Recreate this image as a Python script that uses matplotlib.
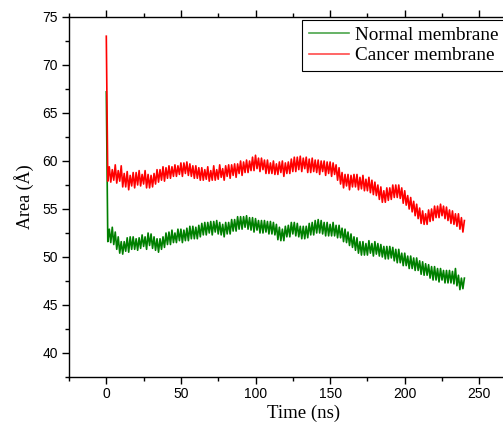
import matplotlib
matplotlib.use("Agg")
import matplotlib.pyplot as plt
import numpy as np
from matplotlib.ticker import MultipleLocator

# ---------------------------------------------------------------------------
# Data (area per lipid, one value per ns)
# ---------------------------------------------------------------------------
normal_area = [
    67.2, 51.6, 52.9, 51.5, 53.1, 51.3, 52.6, 50.8, 52.1, 50.4,
    51.6, 50.3, 51.6, 50.6, 52.0, 50.5, 52.1, 50.8, 52.1, 50.8,
    51.9, 50.7, 52.0, 50.9, 52.3, 51.1, 52.1, 50.8, 52.5, 51.2,
    52.4, 50.9, 52.1, 50.7, 51.9, 50.5, 51.9, 50.8, 52.1, 51.0,
    52.5, 51.3, 52.6, 51.3, 52.8, 51.5, 52.5, 51.5, 52.9, 51.7,
    52.9, 51.5, 52.8, 51.7, 53.0, 51.7, 53.2, 51.9, 53.2, 51.9,
    53.1, 51.9, 53.3, 52.1, 53.5, 52.3, 53.6, 52.3, 53.6, 52.5,
    53.7, 52.3, 53.7, 52.6, 53.8, 52.4, 53.6, 52.3, 53.4, 52.1,
    53.6, 52.4, 53.6, 52.4, 53.9, 52.7, 53.9, 52.7, 54.2, 52.9,
    54.2, 52.9, 54.2, 53.1, 54.3, 52.9, 54.1, 52.8, 54.1, 52.6,
    54.0, 52.8, 53.8, 52.5, 53.8, 52.5, 53.8, 52.6, 53.7, 52.4,
    53.7, 52.4, 53.6, 52.3, 53.4, 51.8, 53.1, 51.7, 52.9, 51.7,
    53.2, 52.1, 53.3, 52.1, 53.6, 52.4, 53.6, 52.2, 53.5, 52.1,
    53.2, 51.9, 53.2, 51.9, 53.2, 52.0, 53.5, 52.3, 53.6, 52.3,
    53.8, 52.5, 53.9, 52.5, 53.8, 52.4, 53.6, 52.2, 53.6, 52.2,
    53.4, 52.2, 53.6, 52.2, 53.3, 52.0, 53.3, 52.0, 53.0, 51.6,
    52.9, 51.5, 52.6, 51.2, 52.4, 51.0, 52.1, 50.7, 52.0, 50.4,
    51.6, 50.2, 51.6, 50.2, 51.4, 50.2, 51.7, 50.4, 51.4, 50.1,
    51.6, 50.3, 51.4, 50.1, 51.3, 50.0, 51.1, 49.8, 51.1, 49.8,
    51.1, 49.9, 51.0, 49.6, 50.8, 49.4, 50.8, 49.4, 50.4, 49.1,
    50.4, 49.1, 50.1, 48.8, 50.1, 48.8, 49.9, 48.6, 49.9, 48.6,
    49.6, 48.2, 49.5, 48.1, 49.3, 48.1, 49.2, 47.8, 49.0, 47.6,
    49.0, 47.6, 48.8, 47.4, 48.8, 47.6, 48.6, 47.3, 48.6, 47.3,
    48.6, 47.3, 48.5, 47.2, 48.8, 47.0, 48.1, 46.6, 47.8, 46.7,
    47.8,
]

cancer_area = [
    73.0, 57.9, 59.4, 57.8, 59.1, 58.0, 59.6, 57.7, 59.0, 57.9,
    59.5, 57.3, 58.7, 57.3, 58.9, 57.0, 58.5, 57.4, 58.8, 57.2,
    58.8, 57.5, 59.0, 57.4, 58.6, 57.6, 59.0, 57.2, 58.6, 57.2,
    58.5, 57.3, 58.7, 57.6, 59.1, 57.8, 59.1, 58.0, 59.4, 57.9,
    59.3, 58.2, 59.5, 58.2, 59.4, 58.4, 59.6, 58.4, 59.5, 58.6,
    59.8, 58.4, 59.8, 58.7, 59.9, 58.5, 59.7, 58.4, 59.5, 58.2,
    59.5, 58.2, 59.3, 58.0, 59.3, 58.0, 59.1, 58.1, 59.4, 57.9,
    59.0, 58.0, 59.5, 58.0, 59.1, 58.1, 59.6, 58.3, 59.2, 58.0,
    59.5, 58.4, 59.6, 58.2, 59.6, 58.5, 59.7, 58.3, 59.7, 58.7,
    60.0, 58.5, 59.9, 58.8, 60.1, 58.8, 60.0, 59.0, 60.4, 59.0,
    60.6, 59.2, 60.3, 58.9, 60.3, 59.1, 60.1, 58.7, 60.1, 58.7,
    59.8, 58.7, 60.0, 58.6, 59.7, 58.6, 59.9, 58.8, 60.0, 58.4,
    59.8, 58.7, 59.9, 58.7, 60.2, 58.9, 60.4, 58.9, 60.4, 59.1,
    60.5, 58.9, 60.3, 59.2, 60.4, 58.8, 60.2, 58.8, 60.3, 58.9,
    60.1, 58.8, 60.1, 58.6, 60.0, 58.9, 60.0, 58.5, 59.9, 58.7,
    59.9, 58.4, 59.8, 58.6, 59.6, 58.0, 59.3, 57.6, 58.8, 57.2,
    58.6, 57.4, 58.6, 57.0, 58.5, 57.3, 58.6, 57.3, 58.6, 57.0,
    58.3, 57.1, 58.5, 56.9, 58.1, 56.9, 58.3, 56.7, 58.0, 56.5,
    57.8, 56.4, 57.5, 56.0, 57.3, 55.7, 56.9, 55.7, 57.2, 55.9,
    57.2, 56.0, 57.5, 56.2, 57.5, 56.2, 57.5, 56.1, 57.2, 55.6,
    56.9, 55.4, 56.4, 55.0, 56.2, 54.7, 55.8, 54.3, 55.5, 54.0,
    55.1, 53.5, 54.8, 53.4, 54.5, 53.4, 54.9, 53.7, 55.0, 53.8,
    55.3, 54.1, 55.3, 54.1, 55.5, 54.3, 55.3, 54.0, 55.2, 53.8,
    54.9, 53.5, 54.8, 53.4, 54.5, 53.2, 54.5, 52.9, 54.1, 52.6,
    53.8,
]

time_ns = np.arange(len(normal_area))  # 1 ns sampling

serif = ["Liberation Serif", "DejaVu Serif"]
sans = ["Liberation Sans", "DejaVu Sans"]

fig = plt.figure(figsize=(5.03, 4.34), dpi=100)
# axes runs past the right edge of the figure, as in the cropped reference
ax = fig.add_axes([69 / 503, 57 / 434, 470 / 503, 360 / 434])

ax.plot(time_ns, normal_area, color="#008000", lw=1.2, label="Normal membrane")
ax.plot(time_ns, cancer_area, color="#ff0000", lw=1.2, label="Cancer membrane")

ax.set_xlim(-25, 290)
ax.set_ylim(37.5, 75)
ax.xaxis.set_major_locator(MultipleLocator(50))
ax.xaxis.set_minor_locator(MultipleLocator(25))
ax.yaxis.set_major_locator(MultipleLocator(5))
ax.yaxis.set_minor_locator(MultipleLocator(2.5))

ax.tick_params(which="major", direction="out", length=5, width=1, pad=2,
               labelsize=10)
ax.tick_params(which="minor", direction="out", length=3, width=1)
ax.tick_params(axis="y", which="major", pad=3)
ax.tick_params(axis="x", which="both", top=True)
for lab in ax.get_xticklabels() + ax.get_yticklabels():
    lab.set_family(sans)
for sp in ax.spines.values():
    sp.set_linewidth(1.0)

ax.set_xlabel("Time (ns)", family=serif, fontsize=13.5, labelpad=3)
ax.set_ylabel("Area (Å)", family=serif, fontsize=13, labelpad=6)

leg = ax.legend(loc="upper left", bbox_to_anchor=(302 / 503, 1 - 20 / 434),
                bbox_transform=fig.transFigure, prop={"family": serif, "size": 13.8},
                frameon=True, fancybox=False, edgecolor="black", framealpha=1,
                borderpad=0.35, labelspacing=0.15, handlelength=2.1,
                handletextpad=0.3, borderaxespad=0)
leg.get_frame().set_linewidth(0.8)
for h in leg.get_lines():
    h.set_alpha(0.7)

fig.savefig("out.png", dpi=100)
